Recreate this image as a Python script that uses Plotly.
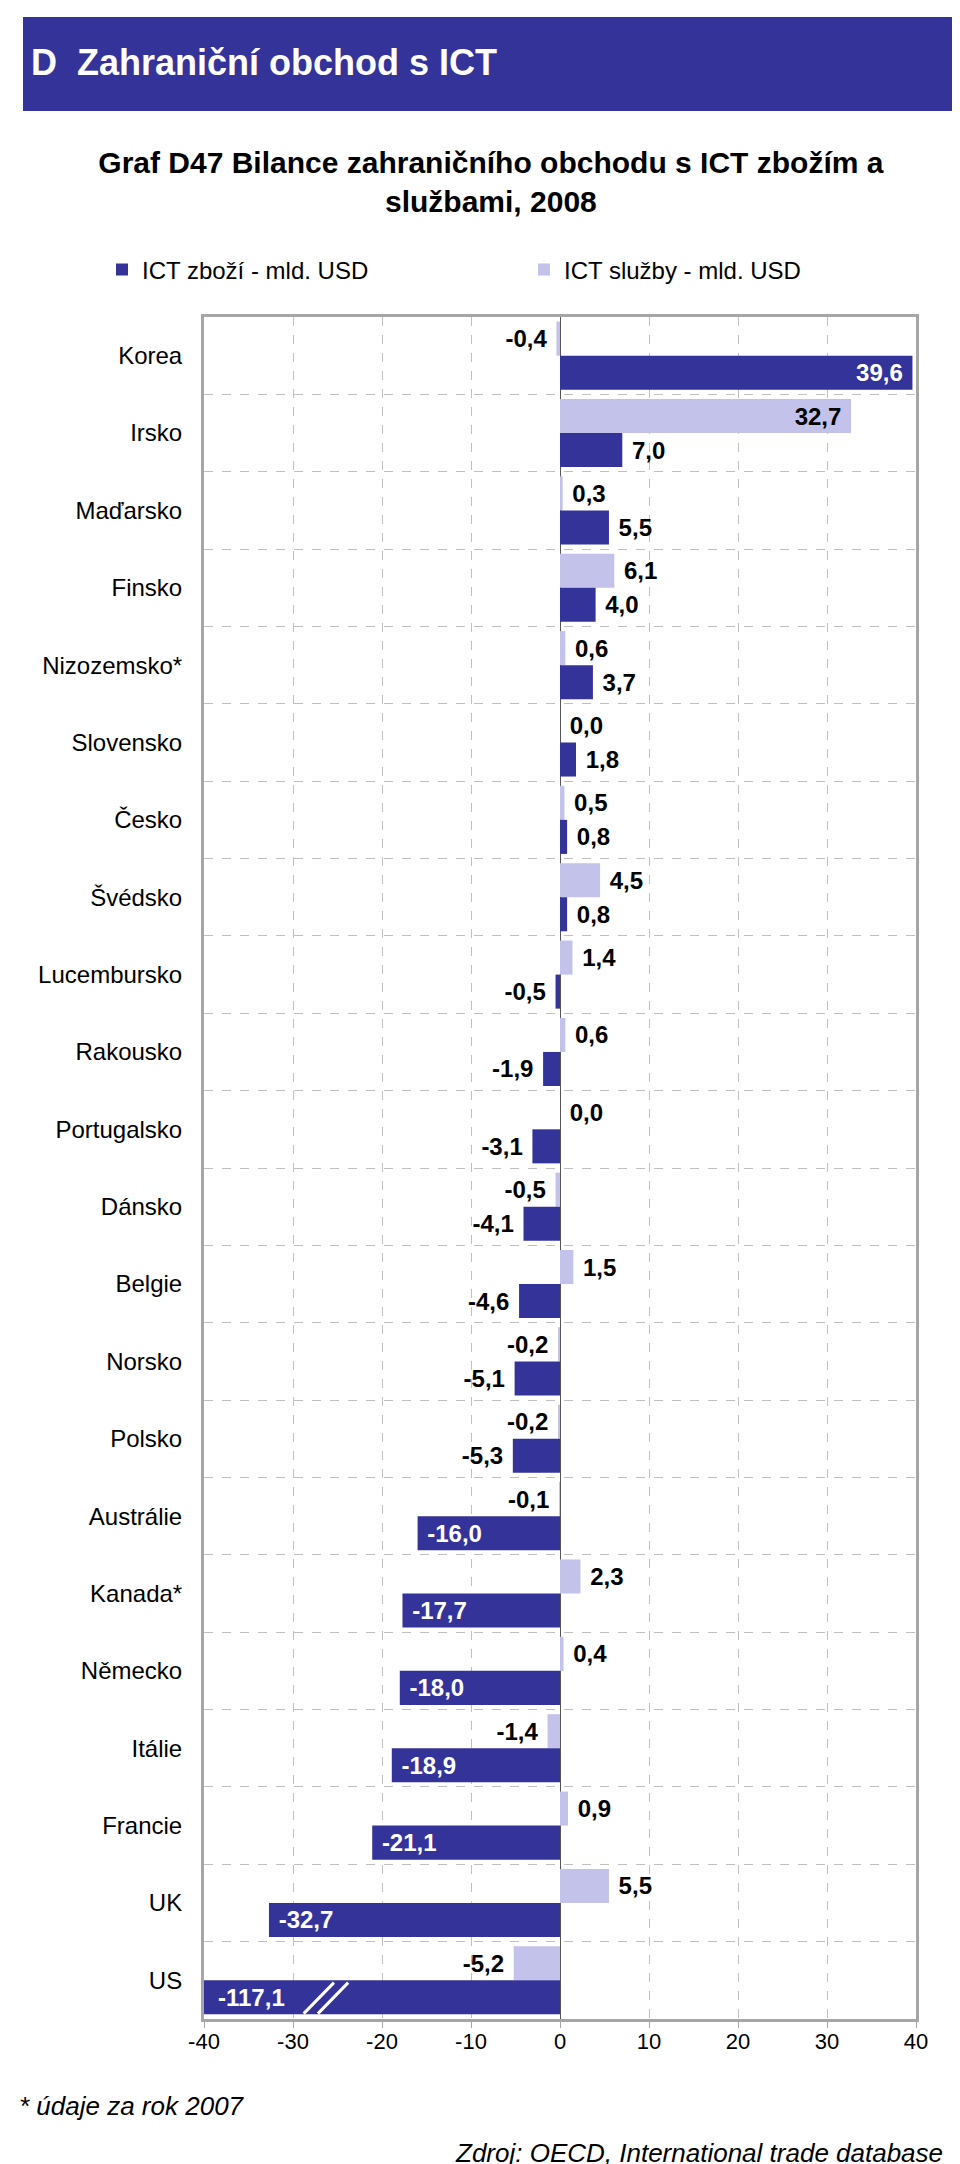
import plotly.graph_objects as go

countries = ["Korea", "Irsko", "Maďarsko", "Finsko", "Nizozemsko*", "Slovensko",
             "Česko", "Švédsko", "Lucembursko", "Rakousko", "Portugalsko", "Dánsko",
             "Belgie", "Norsko", "Polsko", "Austrálie", "Kanada*", "Německo",
             "Itálie", "Francie", "UK", "US"]
goods = [39.6, 7.0, 5.5, 4.0, 3.7, 1.8, 0.8, 0.8, -0.5, -1.9, -3.1, -4.1,
         -4.6, -5.1, -5.3, -16.0, -17.7, -18.0, -18.9, -21.1, -32.7, -117.1]
services = [-0.4, 32.7, 0.3, 6.1, 0.6, 0.0, 0.5, 4.5, 1.4, 0.6, 0.0, -0.5,
            1.5, -0.2, -0.2, -0.1, 2.3, 0.4, -1.4, 0.9, 5.5, -5.2]
x_ticks = [-40, -30, -20, -10, 0, 10, 20, 30, 40]
x_range = [-40, 40]

DARK = "#333399"
LIGHT = "#c2c2ea"
FONT = "Liberation Sans, Arial, sans-serif"
NB = "\u00a0"

W, H = 960, 2164
L, R, T, B = 196, 52, 309, 153


def px(x):
    return (x - L) / (W - L - R)


def py(y):
    return (H - B - y) / (H - T - B)


def fmt(v):
    return f"{v:.1f}".replace(".", ",")


def inside(v):
    return abs(v) >= 15


def off_axis(v):
    return v < x_range[0] or v > x_range[1]


def label(v):
    # small gap between bar and its label; off-axis bars get an annotation
    if off_axis(v):
        return ""
    s = fmt(v)
    if inside(v):
        return s + NB if v > 0 else NB + s
    return NB + s if v >= 0 else s + NB


fig = go.Figure()

fig.add_trace(go.Bar(
    name="ICT služby - mld. USD", y=countries, x=services, orientation="h",
    marker=dict(color=LIGHT, line_width=0),
    text=[label(v) for v in services],
    textposition=["inside" if inside(v) else "outside" for v in services],
    insidetextanchor="end", constraintext="none", cliponaxis=False,
    textfont=dict(family=FONT, size=24, color="black", weight="bold"),
    legendrank=2, hoverinfo="x+y"))

fig.add_trace(go.Bar(
    name="ICT zboží - mld. USD", y=countries, x=goods, orientation="h",
    marker=dict(color=DARK, line_width=0),
    text=[label(v) for v in goods],
    textposition=["inside" if inside(v) else "outside" for v in goods],
    insidetextanchor="end", constraintext="none", cliponaxis=False,
    insidetextfont=dict(family=FONT, size=24, color="white", weight="bold"),
    outsidetextfont=dict(family=FONT, size=24, color="black", weight="bold"),
    legendrank=1, hoverinfo="x+y"))

shapes = [dict(type="rect", xref="paper", yref="paper",
               x0=px(15), x1=px(950), y0=py(103), y1=py(9),
               fillcolor=DARK, line_width=0, layer="below")]

annotations = [
    dict(text="D" + NB + " Zahraniční obchod s ICT", xref="paper", yref="paper",
         x=px(21), y=py(55), xanchor="left", yanchor="middle", showarrow=False,
         font=dict(family=FONT, size=36, color="white", weight="bold")),
    dict(text="* údaje za rok 2007", xref="paper", yref="paper",
         x=px(9), y=py(2098), xanchor="left", yanchor="middle", showarrow=False,
         font=dict(family=FONT, size=26, color="black", style="italic")),
    dict(text="Zdroj: OECD, International trade database", xref="paper", yref="paper",
         x=px(937), y=py(2145), xanchor="right", yanchor="middle", showarrow=False,
         font=dict(family=FONT, size=26, color="black", style="italic")),
]

# goods bars sit in the lower half of each category band
bar_w = (1 - 0.12) / 2
for i, v in enumerate(goods):
    if off_axis(v):
        edge = x_range[0] if v < 0 else x_range[1]
        annotations.append(dict(
            text=fmt(v), xref="x", yref="y", x=edge, y=i + bar_w / 2,
            xanchor="left" if v < 0 else "right", yanchor="middle",
            xshift=12 if v < 0 else -12, showarrow=False,
            font=dict(family=FONT, size=24, color="white", weight="bold")))
        # axis break marks "//"
        for dx in (0, 1.6):
            shapes.append(dict(type="line", xref="x", yref="y",
                               x0=-28.8 + dx, y0=i + bar_w - 0.01,
                               x1=-25.4 + dx, y1=i + 0.03,
                               line=dict(color="white", width=3)))

fig.update_layout(
    width=W, height=H,
    margin=dict(l=L, r=R, t=T, b=B, autoexpand=False),
    paper_bgcolor="white", plot_bgcolor="white",
    font=dict(family=FONT, color="black"),
    barmode="group", bargap=0.12, bargroupgap=0,
    title=dict(text="Graf D47 Bilance zahraničního obchodu s ICT zbožím a<br>službami, 2008",
               x=0.503, xanchor="center", yref="container", y=1 - 165 / H, yanchor="top",
               font=dict(family=FONT, size=30, color="black", weight="bold")),
    legend=dict(orientation="h", x=px(94), y=py(262), xanchor="left", yanchor="middle",
                entrywidth=377, entrywidthmode="pixels",
                font=dict(family=FONT, size=24, color="black")),
    xaxis=dict(range=x_range, tickvals=x_ticks, ticktext=[str(t) for t in x_ticks],
               showgrid=True, gridcolor="#c0c0c0", griddash="dash", gridwidth=1,
               zeroline=True, zerolinecolor="#555555", zerolinewidth=1,
               showline=True, mirror=True, linecolor="#a6a6a6", linewidth=3,
               ticks="outside", ticklen=6, tickcolor="#a6a6a6",
               ticklabelstandoff=-5,
               tickfont=dict(family=FONT, size=22, color="black")),
    yaxis=dict(type="category", autorange="reversed", tickson="boundaries",
               showgrid=True, gridcolor="#c0c0c0", griddash="dash", gridwidth=1,
               showline=True, mirror=True, linecolor="#a6a6a6", linewidth=3,
               ticks="", ticklabelstandoff=14,
               tickfont=dict(family=FONT, size=24, color="black")),
    yaxis2=dict(type="category", overlaying="y", anchor="free", position=0.5,
                categoryorder="array", categoryarray=countries,
                range=[len(countries) - 0.5, -0.5], tickson="boundaries",
                showgrid=False, showline=False, showticklabels=False,
                ticks="outside", ticklen=6, tickcolor="#555555"),
    shapes=shapes, annotations=annotations,
)

fig.write_html("out.html")
